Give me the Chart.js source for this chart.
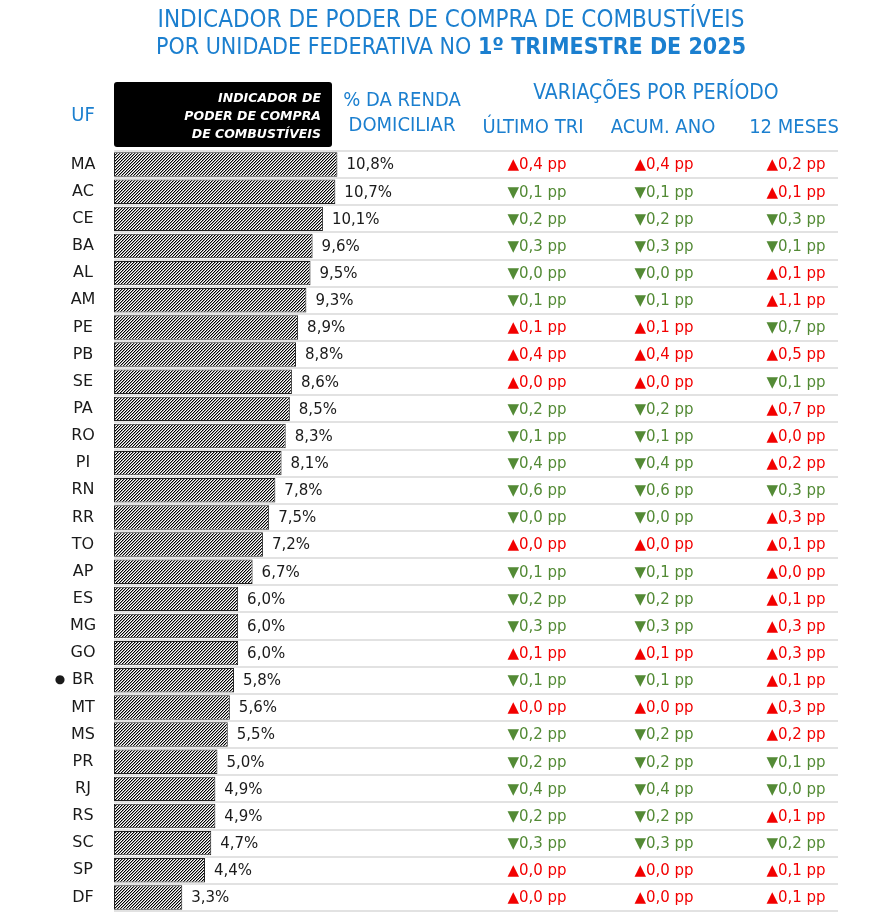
<!DOCTYPE html>
<html><head><meta charset="utf-8">
<script src="https://cdn.jsdelivr.net/npm/chart.js@4"></script>
<style>html,body{margin:0;padding:0;background:#fff}#wrap{width:886px;height:920px}</style>
</head><body><div id="wrap"><canvas id="c" width="886" height="920"></canvas></div>
<script>
// ---------- DATA ----------
const ufs = ['MA','AC','CE','BA','AL','AM','PE','PB','SE','PA','RO','PI','RN','RR','TO','AP','ES','MG','GO','BR','MT','MS','PR','RJ','RS','SC','SP','DF'];
const rendaPct = [10.8,10.7,10.1,9.6,9.5,9.3,8.9,8.8,8.6,8.5,8.3,8.1,7.8,7.5,7.2,6.7,6.0,6.0,6.0,5.8,5.6,5.5,5.0,4.9,4.9,4.7,4.4,3.3];
const ultimoTriVal = [0.4,0.1,0.2,0.3,0.0,0.1,0.1,0.4,0.0,0.2,0.1,0.4,0.6,0.0,0.0,0.1,0.2,0.3,0.1,0.1,0.0,0.2,0.2,0.4,0.2,0.3,0.0,0.0];
const ultimoTriDir = ['u','d','d','d','d','d','u','u','u','d','d','d','d','d','u','d','d','d','u','d','u','d','d','d','d','d','u','u'];
const acumAnoVal = [0.4,0.1,0.2,0.3,0.0,0.1,0.1,0.4,0.0,0.2,0.1,0.4,0.6,0.0,0.0,0.1,0.2,0.3,0.1,0.1,0.0,0.2,0.2,0.4,0.2,0.3,0.0,0.0];
const acumAnoDir = ['u','d','d','d','d','d','u','u','u','d','d','d','d','d','u','d','d','d','u','d','u','d','d','d','d','d','u','u'];
const dozeMesesVal = [0.2,0.1,0.3,0.1,0.1,1.1,0.7,0.5,0.1,0.7,0.0,0.2,0.3,0.3,0.1,0.0,0.1,0.3,0.3,0.1,0.3,0.2,0.1,0.0,0.1,0.2,0.1,0.1];
const dozeMesesDir = ['u','u','d','d','u','u','d','u','d','u','u','u','d','u','u','u','u','u','u','u','u','u','d','d','u','d','u','u'];
const highlightUF = 'BR';

const titleLine1 = 'INDICADOR DE PODER DE COMPRA DE COMBUSTÍVEIS';
const titleLine2a = 'POR UNIDADE FEDERATIVA NO ';
const titleLine2b = '1º TRIMESTRE DE 2025';
const boxLines = ['INDICADOR DE','PODER DE COMPRA','DE COMBUSTÍVEIS'];

// ---------- STYLE ----------
const BLUE = '#1b7fcf';
const RED = '#f20000';
const GREEN = '#538a35';
const NARROW = '"Liberation Sans Narrow","DejaVu Sans Condensed","Roboto Condensed",sans-serif';
const BODY = '"DejaVu Sans",sans-serif';

function makePattern(ctx){
  // crisp 3px diagonal hatch ("/"), one black pixel + one grey pixel per row
  const s = 3;
  const t = document.createElement('canvas'); t.width = s; t.height = s;
  const g = t.getContext('2d');
  g.fillStyle = '#fff'; g.fillRect(0,0,s,s);
  for (let r = 0; r < s; r++){
    const x = (s - 1 - r + s) % s;
    g.fillStyle = '#000'; g.fillRect(x, r, 1, 1);
    g.fillStyle = '#9a9a9a'; g.fillRect((x + 1) % s, r, 1, 1);
  }
  return ctx.createPattern(t, 'repeat');
}

const ctx = document.getElementById('c').getContext('2d');
const fmt = v => v.toFixed(1).replace('.', ',');

const overlay = {
  id: 'overlay',
  afterDraw(chart){
    const c = chart.ctx;
    const xs = chart.scales.x, ys = chart.scales.y;
    c.save();
    // Title
    c.fillStyle = BLUE; c.textBaseline = 'middle';
    c.font = '24px ' + NARROW; c.textAlign = 'center';
    c.fillText(titleLine1, 451, 21);
    c.font = '23px ' + NARROW;
    const wa = c.measureText(titleLine2a).width;
    c.font = 'bold 23px ' + NARROW;
    const wb = c.measureText(titleLine2b).width;
    const sx = 451 - (wa + wb) / 2;
    c.textAlign = 'left';
    c.font = '23px ' + NARROW; c.fillText(titleLine2a, sx, 48);
    c.font = 'bold 23px ' + NARROW; c.fillText(titleLine2b, sx + wa, 48);

    // Black header box
    c.fillStyle = '#000';
    c.beginPath(); c.roundRect(114, 82, 218, 65, 3); c.fill();
    c.fillStyle = '#fff'; c.textAlign = 'right';
    c.font = 'italic bold 12.5px ' + BODY;
    boxLines.forEach((l, i) => c.fillText(l, 321, 99 + i * 18));

    // Column headers
    c.fillStyle = BLUE; c.textAlign = 'center';
    c.font = '20px ' + NARROW;
    c.fillText('UF', 83, 116);
    c.fillText('% DA RENDA', 402, 101);
    c.fillText('DOMICILIAR', 402, 126);
    c.fillText('ÚLTIMO TRI', 533, 128);
    c.fillText('ACUM. ANO', 663, 128);
    c.fillText('12 MESES', 794, 128);
    c.font = '21px ' + NARROW;
    c.fillText('VARIAÇÕES POR PERÍODO', 656, 94);

    // Rows
    c.textBaseline = 'middle';
    ufs.forEach((uf, i) => {
      const y = ys.getPixelForValue(i);
      c.fillStyle = '#1a1a1a'; c.textAlign = 'center';
      c.font = '16px ' + BODY;
      c.fillText(uf, 83, y);
      if (uf === highlightUF){ c.font = '12px ' + BODY; c.fillText('●', 60, y); }
      c.textAlign = 'left'; c.font = '15px ' + BODY;
      c.fillText(fmt(rendaPct[i]) + '%', xs.getPixelForValue(rendaPct[i]) + 9, y + 1);
      const cols = [[ultimoTriVal, ultimoTriDir, 537],[acumAnoVal, acumAnoDir, 664],[dozeMesesVal, dozeMesesDir, 796]];
      c.textAlign = 'center';
      cols.forEach(([vals, dirs, cx]) => {
        const up = dirs[i] === 'u';
        c.fillStyle = up ? RED : GREEN;
        c.fillText((up ? '▲' : '▼') + fmt(vals[i]) + ' pp', cx, y + 1);
      });
    });
    c.restore();
  }
};

new Chart(ctx, {
  type: 'bar',
  data: {
    labels: ufs,
    datasets: [{
      data: rendaPct,
      backgroundColor: makePattern(ctx),
      borderColor: '#222',
      borderWidth: 1,
      borderSkipped: false,
      barPercentage: 0.9,
      categoryPercentage: 1
    }]
  },
  options: {
    indexAxis: 'y',
    responsive: false,
    animation: false,
    layout: { padding: { top: 151, right: 48, bottom: 9, left: 0 } },
    plugins: { legend: { display: false }, tooltip: { enabled: false } },
    scales: {
      x: { min: 0, max: 35, display: false },
      y: {
        grid: { offset: true, color: '#e2e2e2', lineWidth: 2, drawTicks: false },
        border: { display: false },
        ticks: { display: false },
        afterFit(s){ s.width = 114; }
      }
    }
  },
  plugins: [overlay]
});
</script></body></html>
